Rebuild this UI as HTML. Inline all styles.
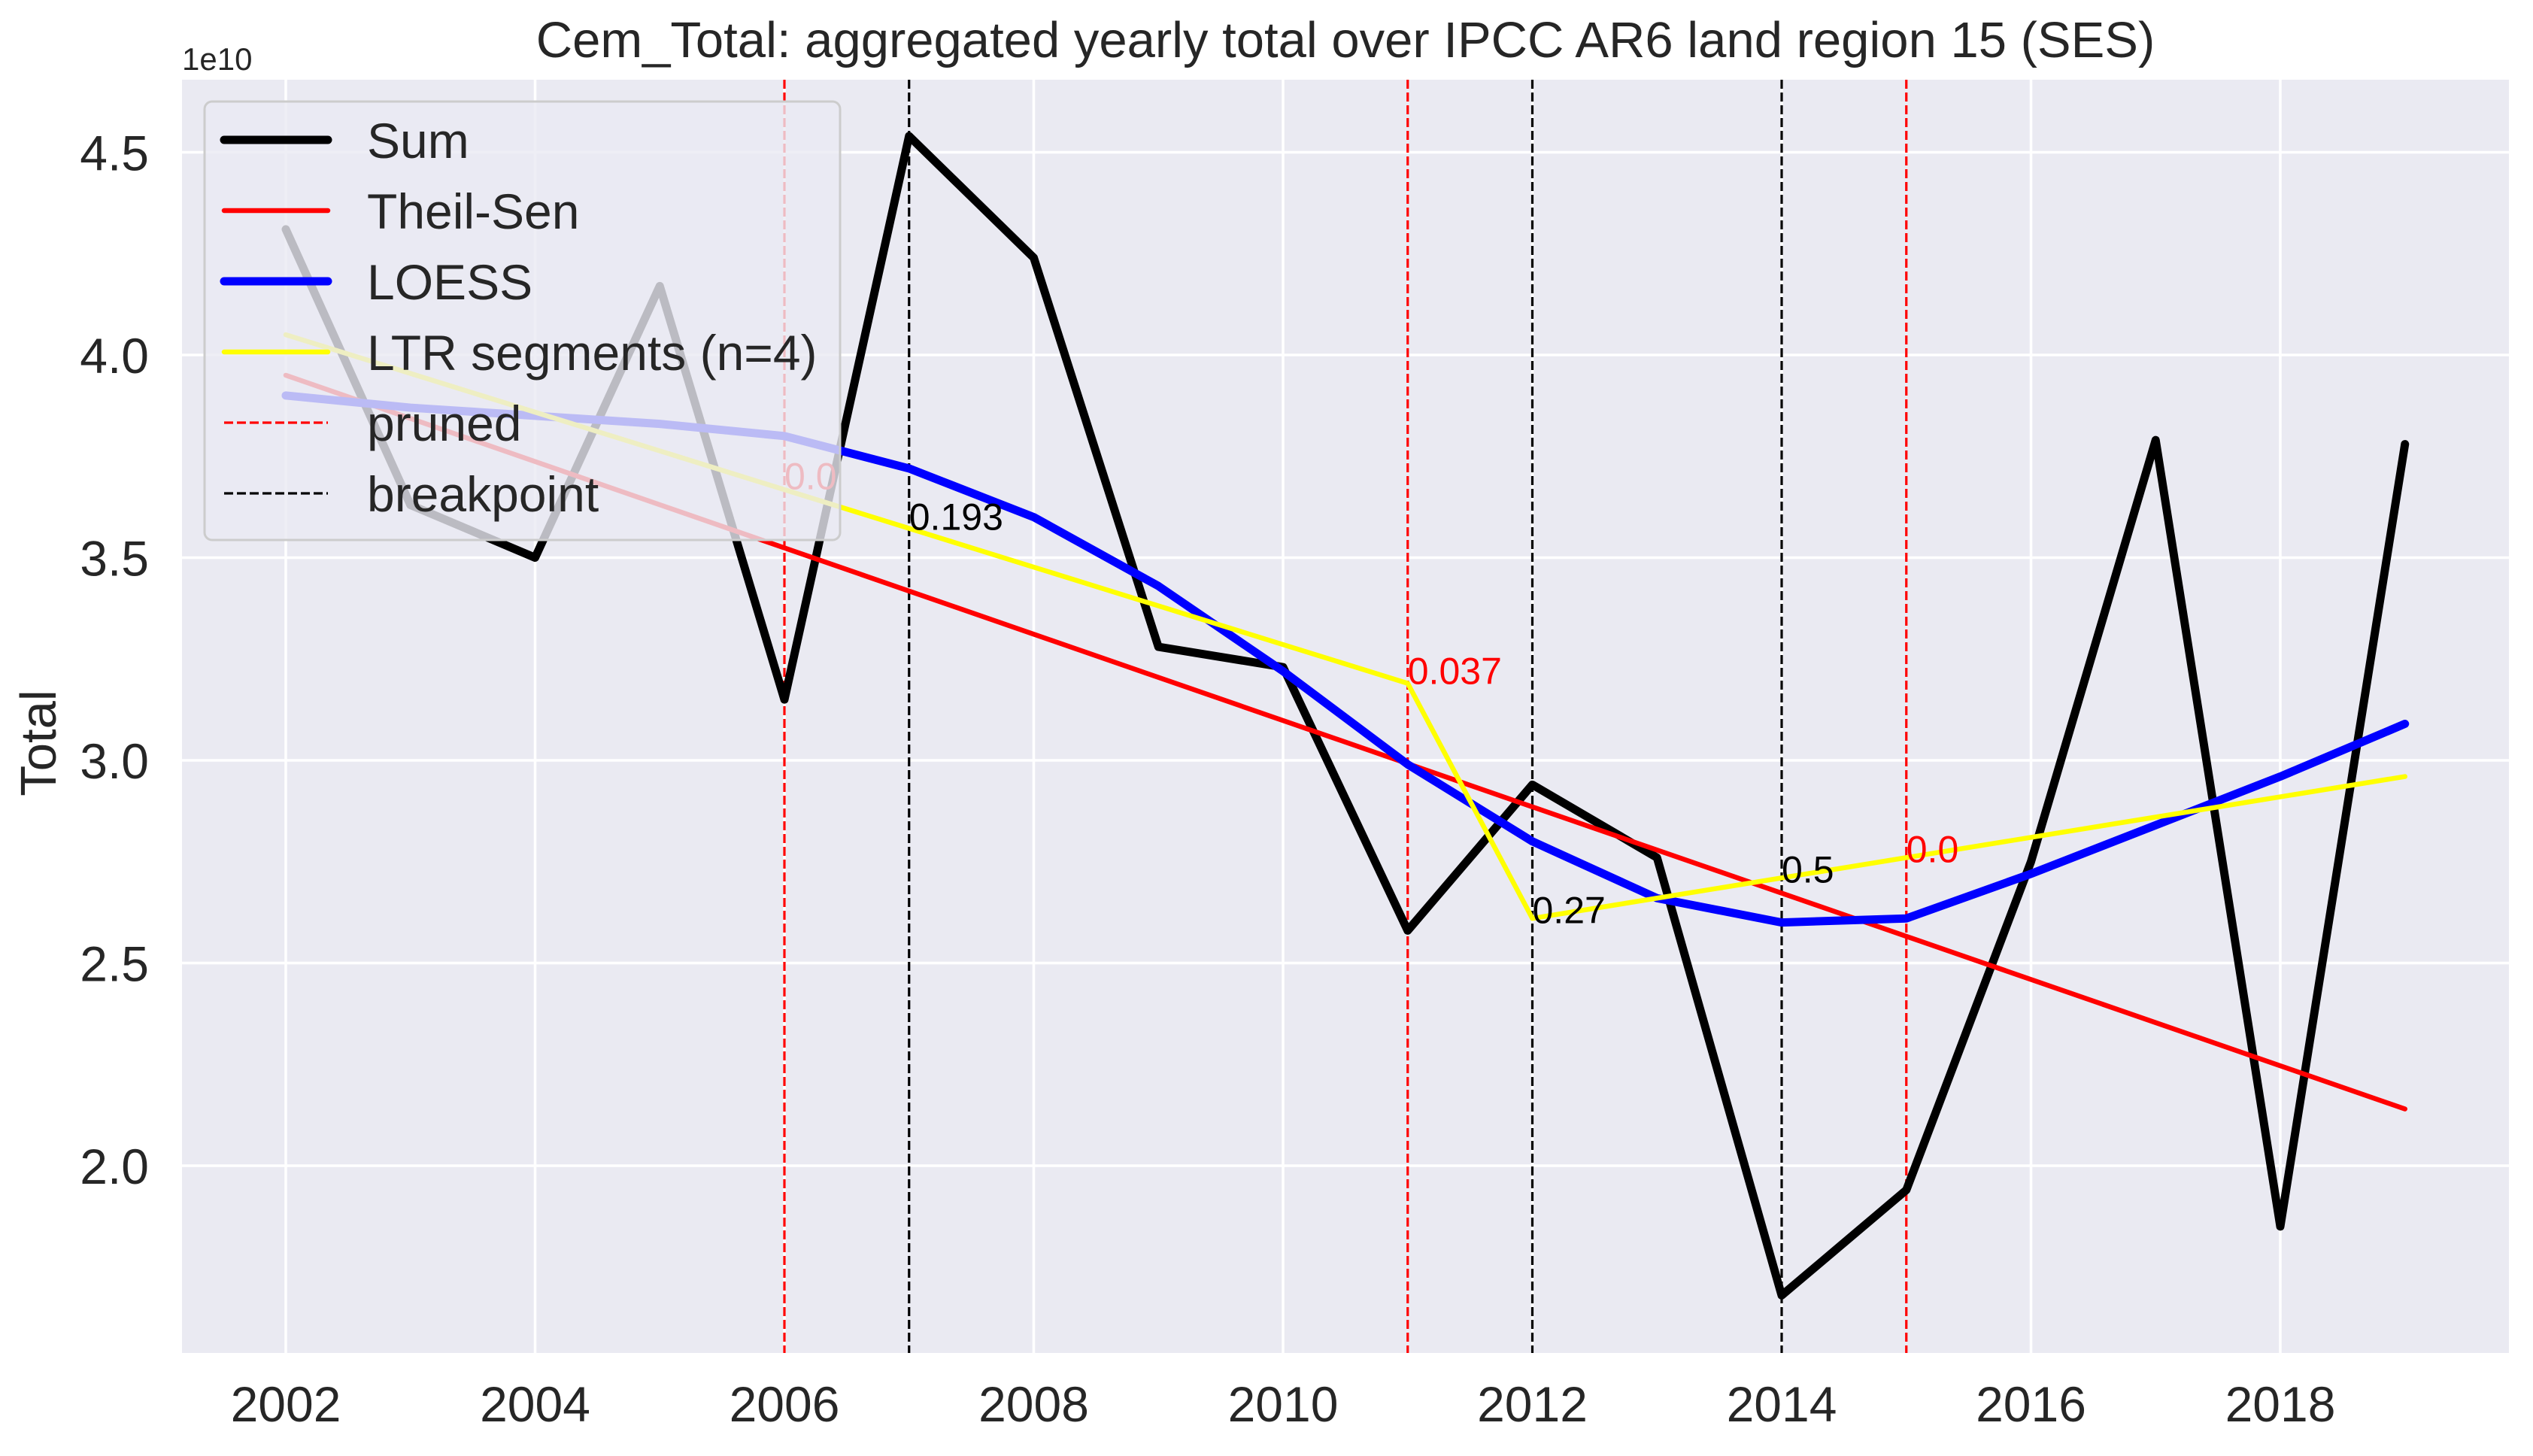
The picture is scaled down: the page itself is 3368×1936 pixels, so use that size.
<!DOCTYPE html>
<html><head><meta charset="utf-8"><style>
html,body{margin:0;padding:0;background:#fff}
svg text{font-family:"Liberation Sans",sans-serif}
</style></head><body>
<svg id="chart" width="3368" height="1931" xmlns="http://www.w3.org/2000/svg">
<rect width="3368" height="1931" fill="#fff"/>
<rect x="242" y="106" width="3094" height="1693" fill="#eaeaf2"/>
<g id="grid"></g>
<g id="vlines"></g>
<g id="series"></g>
<g id="annots"></g>
<g id="ticks"></g>
<text x="1789" y="76" font-size="67" text-anchor="middle" fill="#262626">Cem_Total: aggregated yearly total over IPCC AR6 land region 15 (SES)</text>
<text x="242" y="93" font-size="42" fill="#262626">1e10</text>
<text transform="translate(74,988) rotate(-90)" font-size="67" text-anchor="middle" fill="#262626">Total</text>
<g id="legend">
<rect x="272" y="135" width="845" height="583" rx="10" fill="#eaeaf2" fill-opacity="0.8" stroke="#cccccc" stroke-width="3"/>
</g>
</svg>
<script>
const years=[2002,2003,2004,2005,2006,2007,2008,2009,2010,2011,2012,2013,2014,2015,2016,2017,2018,2019];
const sumVals=[4.31,3.63,3.50,4.17,3.15,4.54,4.24,3.28,3.23,2.58,2.94,2.76,1.68,1.94,2.75,3.79,1.85,3.78];
const theilYears=[2002,2019];
const theilVals=[3.95,2.14];
const loessVals=[3.90,3.87,3.85,3.83,3.80,3.72,3.60,3.43,3.22,2.99,2.80,2.66,2.60,2.61,2.72,2.84,2.96,3.09];
const ltrYears=[2002,2011,2012,2019];
const ltrVals=[4.05,3.19,2.61,2.96];
const prunedYears=[2006,2011,2015];
const prunedLabels=["0.0","0.037","0.0"];
const prunedLabelY=[3.70,3.22,2.78];
const breakYears=[2007,2012,2014];
const breakLabels=["0.193","0.27","0.5"];
const breakLabelY=[3.60,2.63,2.73];
const xTicks=[2002,2004,2006,2008,2010,2012,2014,2016,2018];
const yTicks=[2.0,2.5,3.0,3.5,4.0,4.5];
const yTickLabels=["2.0","2.5","3.0","3.5","4.0","4.5"];

const NS="http://www.w3.org/2000/svg";
const X=v=>380+(v-2002)*165.75;
const Y=v=>1550-(v-2.0)*539;
function mk(tag,attrs,parent){const e=document.createElementNS(NS,tag);for(const k in attrs)e.setAttribute(k,attrs[k]);document.getElementById(parent).appendChild(e);return e;}

xTicks.forEach((t,i)=>{
  const l=mk('line',{x1:X(t),x2:X(t),y1:106,y2:1799,stroke:'#fff','stroke-width':3.5},'grid');
  
  
  const tx=mk('text',{x:X(t),y:1890,'font-size':66,'text-anchor':'middle',fill:'#262626'},'ticks');
  tx.textContent=t;
  
  
});
yTicks.forEach((t,i)=>{
  const l=mk('line',{x1:242,x2:3336,y1:Y(t),y2:Y(t),stroke:'#fff','stroke-width':3.5},'grid');
  
  
  const tx=mk('text',{x:198,y:Y(t)+24,'font-size':66,'text-anchor':'end',fill:'#262626'},'ticks');
  tx.textContent=yTickLabels[i];
  
  
});
prunedYears.forEach((t,i)=>{
  const l=mk('line',{x1:X(t),x2:X(t),y1:106,y2:1799,stroke:'#ff0000','stroke-width':3.2,'stroke-dasharray':'12,5'},'vlines');
  
  
  const tx=mk('text',{x:X(t),y:Y(prunedLabelY[i])+17,'font-size':50,fill:'#ff0000'},'annots');
  tx.textContent=prunedLabels[i];
  
  
});
breakYears.forEach((t,i)=>{
  const l=mk('line',{x1:X(t),x2:X(t),y1:106,y2:1799,stroke:'#000','stroke-width':3.2,'stroke-dasharray':'12,5'},'vlines');
  
  
  const tx=mk('text',{x:X(t),y:Y(breakLabelY[i])+17,'font-size':50,fill:'#000'},'annots');
  tx.textContent=breakLabels[i];
  
  
});
function poly(xs,ys,color,w,name){
  const p=mk('polyline',{points:xs.map((x,i)=>X(x)+','+Y(ys[i])).join(' '),fill:'none',stroke:color,'stroke-width':w,'stroke-linejoin':'round','stroke-linecap':'round'},'series');
  
  
}
poly(years,sumVals,'#000',11,'sum-line');
poly(theilYears,theilVals,'#ff0000',6.5,'theil-sen-line');
poly(years,loessVals,'#0000ff',11,'loess-line');
poly(ltrYears,ltrVals,'#ffff00',6.5,'ltr-segments-line');

const legItems=[["Sum","#000",11,null],["Theil-Sen","#ff0000",6.5,null],["LOESS","#0000ff",11,null],["LTR segments (n=4)","#ffff00",6.5,null],["pruned","#ff0000",3.2,"12,5"],["breakpoint","#000",3.2,"12,5"]];
legItems.forEach((it,i)=>{
  const y=186+i*94;
  const a={x1:298,x2:436,y1:y,y2:y,stroke:it[1],'stroke-width':it[2],'stroke-linecap':it[3]?'butt':'round'};
  if(it[3])a['stroke-dasharray']=it[3];
  const l=mk('line',a,'legend');
  
  
  const t=mk('text',{x:488,y:y+24,'font-size':66,fill:'#262626'},'legend');
  t.textContent=it[0];
  
  
});
</script>
</body></html>
